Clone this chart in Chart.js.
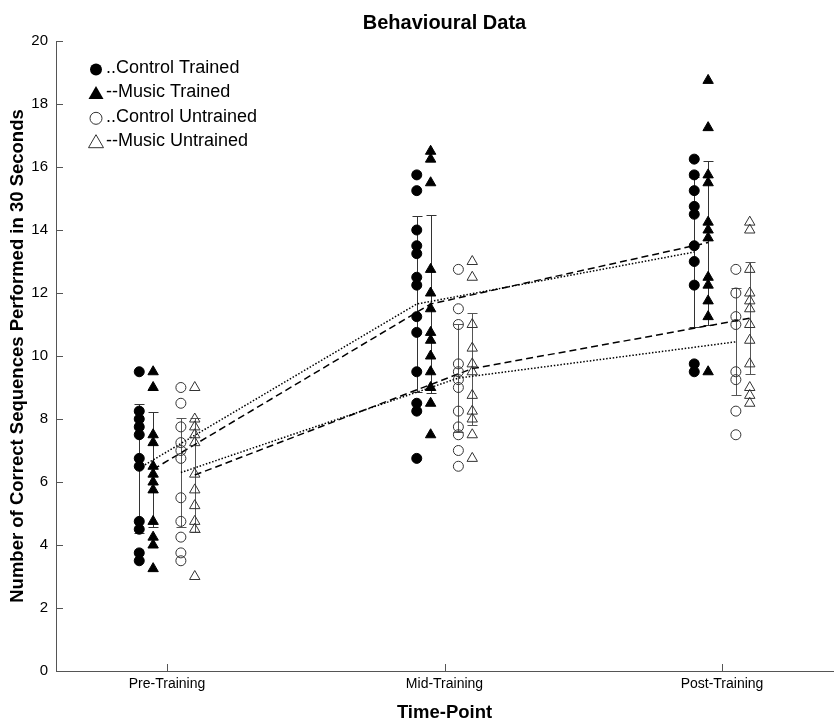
<!DOCTYPE html>
<html>
<head>
<meta charset="utf-8">
<title>Behavioural Data</title>
<script src="https://cdn.jsdelivr.net/npm/chart.js@4.4.0/dist/chart.umd.min.js"></script>
<style>
  html, body { margin: 0; padding: 0; background: #fff; overflow: hidden; }
  #wrap { width: 840px; height: 725px; }
</style>
</head>
<body>
<div id="wrap"><canvas id="myChart" width="840" height="725"></canvas></div>
<script>
// time points on the x axis
var timeLabels = ['Pre-Training', 'Mid-Training', 'Post-Training'];
var timePos = [1, 2, 3];

// individual scores, one list per time point
var controlTrained = [
    [9.5, 8.25, 8.0, 7.75, 7.5, 6.75, 6.5, 4.75, 4.5, 3.75, 3.5],
    [15.75, 15.25, 14.0, 13.5, 13.25, 12.5, 12.25, 11.25, 10.75, 9.5, 8.5, 8.25, 6.75],
    [16.25, 15.75, 15.25, 14.75, 14.5, 13.5, 13.0, 12.25, 9.75, 9.5]
];
var musicTrained = [
    [9.5, 9.0, 7.5, 7.25, 6.5, 6.25, 6.0, 5.75, 4.75, 4.25, 4.0, 3.25],
    [16.5, 16.25, 15.5, 12.75, 12.0, 11.5, 10.75, 10.5, 10.0, 9.5, 9.0, 8.5, 7.5],
    [18.75, 17.25, 15.75, 15.5, 14.25, 14.0, 13.75, 12.5, 12.25, 11.75, 11.25, 9.5]
];
var controlUntrained = [
    [9.0, 8.5, 7.75, 7.25, 7.0, 6.75, 5.5, 4.75, 4.25, 3.75, 3.5],
    [12.75, 11.5, 11.0, 9.75, 9.5, 9.25, 9.0, 8.25, 7.75, 7.5, 7.0, 6.5],
    [12.75, 12.0, 11.25, 11.0, 9.5, 9.25, 8.25, 7.5]
];
var musicUntrained = [
    [9.0, 8.0, 7.75, 7.5, 7.25, 6.25, 5.75, 5.25, 4.75, 4.5, 3.0],
    [13.0, 12.5, 11.0, 10.25, 9.75, 9.5, 8.75, 8.25, 8.0, 7.5, 6.75],
    [14.25, 14.0, 12.75, 12.0, 11.75, 11.5, 11.0, 10.5, 9.75, 9.0, 8.75, 8.5]
];

// group means and standard deviations (error bars)
var ctMean = [6.44, 11.65, 13.3];
var ctSd = [2.05, 2.8, 2.38];
var mtMean = [6.4, 11.65, 13.6];
var mtSd = [1.82, 2.83, 2.6];
var cuMean = [6.3, 9.3, 10.45];
var cuSd = [1.72, 1.72, 1.7];
var muMean = [6.22, 9.6, 11.2];
var muSd = [1.8, 1.78, 1.78];

var legendLabels = ['..Control Trained', '--Music Trained', '..Control Untrained', '--Music Untrained'];

var fontFamily = '"Liberation Sans", Arial, Helvetica, sans-serif';
Chart.defaults.font.family = fontFamily;
Chart.defaults.color = '#000';

var groups = [
    { points: controlTrained, mean: ctMean, sd: ctSd, shift: -0.1, shape: 'circle', filled: true, dash: [1.5, 1.8] },
    { points: musicTrained, mean: mtMean, sd: mtSd, shift: -0.05, shape: 'triangle', filled: true, dash: [7, 4] },
    { points: controlUntrained, mean: cuMean, sd: cuSd, shift: 0.05, shape: 'circle', filled: false, dash: [1.5, 1.8] },
    { points: musicUntrained, mean: muMean, sd: muSd, shift: 0.1, shape: 'triangle', filled: false, dash: [7, 4] }
];

var datasets = [];
groups.forEach(function (g, i) {
    var pts = [];
    g.points.forEach(function (list, t) {
        list.forEach(function (v) {
            pts.push({ x: timePos[t] + g.shift, y: v });
        });
    });
    datasets.push({
        label: legendLabels[i],
        data: pts,
        order: 1,
        pointStyle: g.shape,
        pointRadius: g.shape === 'triangle' ? 6 : 5,
        backgroundColor: g.filled ? '#000' : 'rgba(0,0,0,0)',
        borderColor: g.filled ? '#000' : '#333',
        borderWidth: 1
    });
    datasets.push({
        label: legendLabels[i] + ' mean',
        data: g.mean.map(function (m, t) { return { x: timePos[t] + g.shift, y: m }; }),
        order: 2,
        showLine: true,
        pointRadius: 0,
        borderColor: '#000',
        borderWidth: 1.5,
        borderDash: g.dash,
        fill: false
    });
});

// vertical error bars with caps, behind the markers
var errorBars = {
    id: 'errorBars',
    beforeDatasetsDraw: function (chart) {
        var ctx = chart.ctx, xs = chart.scales.x, ys = chart.scales.y;
        ctx.save();
        ctx.lineWidth = 1;
        groups.forEach(function (g) {
            ctx.strokeStyle = g.filled ? '#333' : '#555';
            g.mean.forEach(function (m, t) {
                var px = Math.round(xs.getPixelForValue(timePos[t] + g.shift)) + 0.5;
                var top = Math.round(ys.getPixelForValue(m + g.sd[t])) + 0.5;
                var bot = Math.round(ys.getPixelForValue(m - g.sd[t])) + 0.5;
                ctx.beginPath();
                ctx.moveTo(px, top); ctx.lineTo(px, bot);
                ctx.moveTo(px - 5, top); ctx.lineTo(px + 5, top);
                ctx.moveTo(px - 5, bot); ctx.lineTo(px + 5, bot);
                ctx.stroke();
            });
        });
        ctx.restore();
    }
};

// tick marks pointing into the plot
var inwardTicks = {
    id: 'inwardTicks',
    afterDatasetsDraw: function (chart) {
        var ctx = chart.ctx, a = chart.chartArea, xs = chart.scales.x, ys = chart.scales.y;
        ctx.save();
        ctx.strokeStyle = '#555';
        ctx.lineWidth = 1;
        ctx.beginPath();
        ys.ticks.forEach(function (t) {
            var py = Math.round(ys.getPixelForValue(t.value)) + 0.5;
            ctx.moveTo(a.left, py); ctx.lineTo(a.left + 7, py);
        });
        xs.ticks.forEach(function (t) {
            var px = Math.round(xs.getPixelForValue(t.value)) + 0.5;
            ctx.moveTo(px, a.bottom); ctx.lineTo(px, a.bottom - 7);
        });
        ctx.stroke();
        ctx.restore();
    }
};

// legend in the top-left corner of the plot
var cornerLegend = {
    id: 'cornerLegend',
    afterDraw: function (chart) {
        var ctx = chart.ctx, a = chart.chartArea;
        ctx.save();
        groups.forEach(function (g, i) {
            var mx = a.left + 40, ty = a.top + 27 + i * 24.4, my = ty + 1.5;
            ctx.beginPath();
            if (g.shape === 'circle') {
                ctx.arc(mx, my, 6, 0, Math.PI * 2);
            } else {
                ctx.moveTo(mx, my - 8);
                ctx.lineTo(mx - 7.5, my + 5);
                ctx.lineTo(mx + 7.5, my + 5);
                ctx.closePath();
            }
            if (g.filled) {
                ctx.fillStyle = '#000';
                ctx.fill();
            } else {
                ctx.strokeStyle = '#333';
                ctx.lineWidth = 1;
                ctx.stroke();
            }
            ctx.fillStyle = '#000';
            ctx.font = '18px ' + fontFamily;
            ctx.textBaseline = 'middle';
            ctx.textAlign = 'left';
            ctx.fillText(legendLabels[i], a.left + 50, ty);
        });
        ctx.restore();
    }
};

var ctx = document.getElementById('myChart').getContext('2d');
var myChart = new Chart(ctx, {
    type: 'scatter',
    data: { datasets: datasets },
    plugins: [errorBars, inwardTicks, cornerLegend],
    options: {
        responsive: false,
        animation: false,
        layout: { padding: 0 },
        plugins: {
            legend: { display: false },
            tooltip: { enabled: false },
            title: {
                display: true,
                fullSize: false,
                text: 'Behavioural Data',
                color: '#000',
                font: { size: 20, weight: 'bold' },
                padding: { top: 11, bottom: 6 }
            }
        },
        scales: {
            x: {
                type: 'linear',
                min: 0.6,
                max: 3.4,
                afterBuildTicks: function (scale) {
                    scale.ticks = timePos.map(function (v) { return { value: v }; });
                },
                afterFit: function (scale) { scale.height = 54; },
                ticks: {
                    autoSkip: false,
                    maxRotation: 0,
                    padding: 5,
                    color: '#000',
                    font: { size: 14 },
                    callback: function (value) { return timeLabels[timePos.indexOf(value)]; }
                },
                grid: { display: false, drawTicks: false },
                border: { display: true, color: '#555', width: 1 },
                title: {
                    display: true,
                    text: 'Time-Point',
                    color: '#000',
                    font: { size: 18.5, weight: 'bold' },
                    padding: { top: 0, bottom: 1 }
                }
            },
            y: {
                min: 0,
                max: 20,
                afterFit: function (scale) { scale.width = 56; },
                ticks: {
                    stepSize: 2,
                    padding: 8,
                    color: '#000',
                    font: { size: 15 }
                },
                grid: { display: false, drawTicks: false },
                border: { display: true, color: '#555', width: 1 },
                title: {
                    display: true,
                    text: 'Number of Correct Sequences Performed in 30 Seconds',
                    color: '#000',
                    font: { size: 18.5, weight: 'bold' },
                    padding: { top: 7, bottom: 0 }
                }
            }
        }
    }
});
</script>
</body>
</html>
